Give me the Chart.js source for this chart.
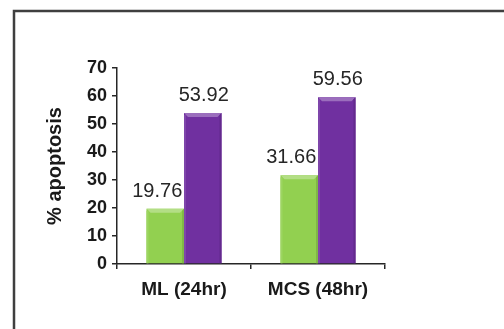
<!DOCTYPE html>
<html>
<head>
<meta charset="utf-8">
<script src="https://cdn.jsdelivr.net/npm/chart.js@4/dist/chart.umd.min.js"></script>
<style>
    html, body { margin: 0; padding: 0; background: #fff; }
    #wrap { width: 504px; height: 329px; position: relative; }
</style>
</head>
<body>
<div id="wrap"><canvas id="c" width="504" height="329"></canvas></div>
<script>
    "use strict";

    // Chart data
    const categories = ["ML (24hr)", "MCS (48hr)"];
    const greenValues = [19.76, 31.66];
    const purpleValues = [53.92, 59.56];
    const yTicks = [0, 10, 20, 30, 40, 50, 60, 70];

    const FONT = "'Liberation Sans', Arial, sans-serif";

    /**
     * Shade a hex colour by a factor (>1 lighter, <1 darker)
     */
    function shade(hex, f) {
        const n = parseInt(hex.slice(1), 16);
        let r = (n >> 16) & 255, g = (n >> 8) & 255, b = n & 255;
        if (f > 1) {
            const t = f - 1;
            r += (255 - r) * t; g += (255 - g) * t; b += (255 - b) * t;
        } else {
            r *= f; g *= f; b *= f;
        }
        return "rgb(" + Math.round(r) + "," + Math.round(g) + "," + Math.round(b) + ")";
    }

    // Outer frame (top + left only, like the cropped slide)
    const framePlugin = {
        id: "frame",
        afterDraw: function (chart) {
            const ctx = chart.ctx;
            ctx.save();
            ctx.strokeStyle = "#3f3f3f";
            ctx.lineWidth = 2.5;
            ctx.beginPath();
            ctx.moveTo(14, 329);
            ctx.lineTo(14, 11);
            ctx.lineTo(504, 11);
            ctx.stroke();
            ctx.restore();
        },
    };

    // Bevelled top edge of each bar + value labels
    const barDecor = {
        id: "barDecor",
        afterDatasetsDraw: function (chart) {
            const ctx = chart.ctx;
            ctx.save();
            chart.data.datasets.forEach(function (ds, di) {
                const meta = chart.getDatasetMeta(di);
                meta.data.forEach(function (bar, i) {
                    const w = bar.width;
                    const left = bar.x - w / 2;
                    const right = bar.x + w / 2;
                    const top = bar.y;
                    const bottom = bar.base;
                    const bv = 4;

                    // top bevel
                    ctx.fillStyle = shade(ds.backgroundColor, 1.3);
                    ctx.beginPath();
                    ctx.moveTo(left, top);
                    ctx.lineTo(right, top);
                    ctx.lineTo(right - bv, top + bv);
                    ctx.lineTo(left + bv, top + bv);
                    ctx.closePath();
                    ctx.fill();

                    // side shading
                    ctx.fillStyle = shade(ds.backgroundColor, 0.88);
                    ctx.beginPath();
                    ctx.moveTo(right, top);
                    ctx.lineTo(right, bottom);
                    ctx.lineTo(right - 2, bottom);
                    ctx.lineTo(right - 2, top + 2);
                    ctx.closePath();
                    ctx.fill();
                    ctx.fillStyle = shade(ds.backgroundColor, 1.1);
                    ctx.fillRect(left, top + 2, 2, bottom - top - 2);

                    // value label
                    ctx.fillStyle = "#262626";
                    ctx.font = "20px " + FONT;
                    ctx.textAlign = "center";
                    ctx.textBaseline = "alphabetic";
                    ctx.fillText(
                        ds.data[i].toFixed(2),
                        bar.x + (ds.labelShift || 0),
                        top - 12
                    );
                });
            });
            ctx.restore();
        },
    };

    new Chart(document.getElementById("c"), {
        type: "bar",
        data: {
            labels: categories,
            datasets: [
                {
                    data: greenValues,
                    backgroundColor: "#92d050",
                    labelShift: -8,
                },
                {
                    data: purpleValues,
                    backgroundColor: "#7030a0",
                    labelShift: 1,
                },
            ],
        },
        options: {
            responsive: false,
            animation: false,
            events: [],
            layout: { padding: { top: 68, right: 119, bottom: 20, left: 43 } },
            datasets: {
                bar: { categoryPercentage: 0.56, barPercentage: 1.0 },
            },
            plugins: {
                legend: { display: false },
                tooltip: { enabled: false },
            },
            scales: {
                x: {
                    grid: {
                        drawOnChartArea: false,
                        drawTicks: true,
                        tickLength: 5,
                        color: "#262626",
                        lineWidth: 1.5,
                    },
                    border: { color: "#262626", width: 1.5 },
                    ticks: {
                        color: "#1a1a1a",
                        padding: 9,
                        font: { family: FONT, size: 19, weight: "bold" },
                    },
                    afterFit: function (s) { s.height = 45; },
                },
                y: {
                    min: 0,
                    max: 70,
                    afterBuildTicks: function (s) {
                        s.ticks = yTicks.map(function (v) { return { value: v }; });
                    },
                    grid: {
                        drawOnChartArea: false,
                        drawTicks: true,
                        tickLength: 5,
                        color: "#262626",
                        lineWidth: 1.5,
                    },
                    border: { color: "#262626", width: 1.5 },
                    ticks: {
                        color: "#1a1a1a",
                        padding: 5,
                        font: { family: FONT, size: 18, weight: "bold" },
                    },
                    title: {
                        display: true,
                        text: "% apoptosis",
                        color: "#1a1a1a",
                        padding: { top: 0, bottom: 8 },
                        font: { family: FONT, size: 20, weight: "bold" },
                    },
                    afterFit: function (s) { s.width = 74; },
                },
            },
        },
        plugins: [framePlugin, barDecor],
    });
</script>
</body>
</html>
